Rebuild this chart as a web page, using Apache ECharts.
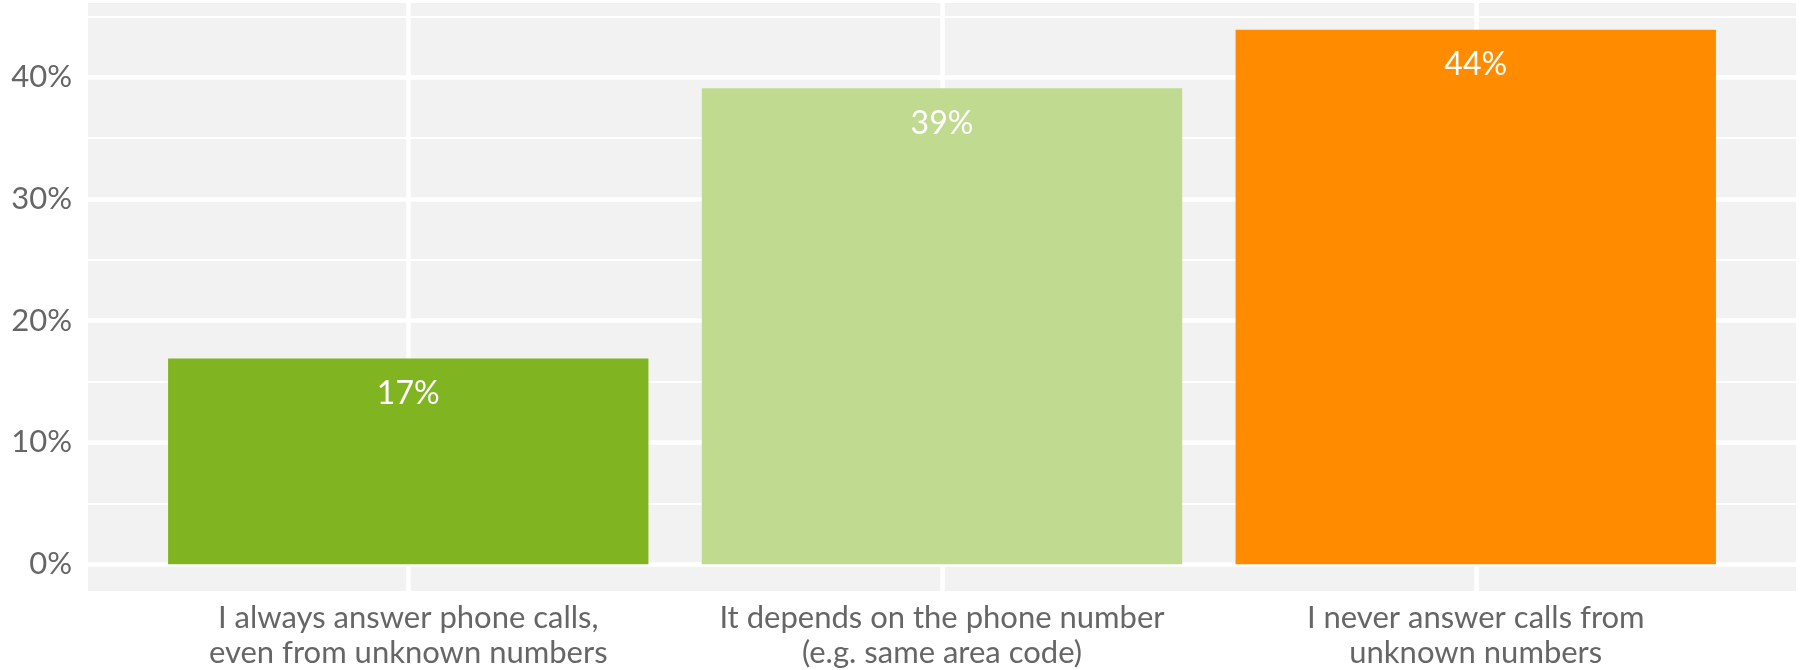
<!DOCTYPE html>
<html>
<head>
<meta charset="utf-8">
<script src="https://cdn.jsdelivr.net/npm/echarts@6/dist/echarts.min.js"></script>
<style>
html,body{margin:0;padding:0;background:#fff;}
#chart{width:1800px;height:670px;}
</style>
</head>
<body>
<div id="chart"></div>
<script>
// ---- data ----
var categories = [
  "I always answer phone calls,\neven from unknown numbers",
  "It depends on the phone number\n(e.g. same area code)",
  "I never answer calls from\nunknown numbers"
];
var positions = [1, 2, 3];
var values = [16.9, 39.1, 43.9];
var colors = ["#80B521", "#C0DA90", "#FF8C00"];
var yTicks = [0, 10, 20, 30, 40];
var yMinor = [5, 15, 25, 35, 45];

var chart = echarts.init(document.getElementById('chart'), null, {renderer: 'canvas'});

var font = 'Lato, "Noto Sans", sans-serif';
var textColor = '#666666';

var barData = values.map(function (v, i) {
  return { value: [positions[i], v], itemStyle: { color: colors[i] } };
});

var gridLines = [];
yTicks.forEach(function (v) {
  gridLines.push({ yAxis: v, lineStyle: { color: '#ffffff', width: 4.5, type: 'solid' } });
});
yMinor.forEach(function (v) {
  gridLines.push({ yAxis: v, lineStyle: { color: '#ffffff', width: 2.2, type: 'solid' } });
});
positions.forEach(function (p) {
  gridLines.push({ xAxis: p, lineStyle: { color: '#ffffff', width: 4.5, type: 'solid' } });
});

var option = {
  animation: false,
  backgroundColor: '#ffffff',
  grid: {
    left: 88, right: 4, top: 3, bottom: 77,
    show: true, backgroundColor: '#F2F2F2', borderWidth: 0,
    containLabel: false
  },
  xAxis: {
    type: 'value',
    min: 0.4, max: 3.6,
    axisLine: { show: false },
    axisTick: { show: false },
    splitLine: { show: false },
    axisLabel: {
      customValues: positions,
      formatter: function (v) {
        var i = positions.indexOf(Math.round(v));
        return i >= 0 ? categories[i] : '';
      },
      fontFamily: font, fontSize: 31, color: textColor,
      lineHeight: 35, margin: 9, align: 'center'
    }
  },
  yAxis: {
    type: 'value',
    min: -2.2, max: 46.1,
    axisLine: { show: false },
    axisTick: { show: false },
    splitLine: { show: false },
    axisLabel: {
      customValues: yTicks,
      formatter: function (v) { return v + '%'; },
      fontFamily: font, fontSize: 31, color: textColor, margin: 16
    }
  },
  series: [
    {
      type: 'line',
      data: [],
      silent: true,
      z: 1,
      markLine: {
        z: 1,
        silent: true,
        symbol: ['none', 'none'],
        label: { show: false },
        emphasis: { disabled: true },
        animation: false,
        data: gridLines
      }
    },
    {
      type: 'bar',
      data: barData,
      barWidth: '90%',
      z: 4,
      label: {
        show: true,
        position: 'insideTop',
        distance: 19,
        formatter: function (p) { return Math.round(p.value[1]) + '%'; },
        fontFamily: font, fontSize: 32, color: '#ffffff', fontWeight: 'normal'
      }
    }
  ]
};
chart.setOption(option);
</script>
</body>
</html>
